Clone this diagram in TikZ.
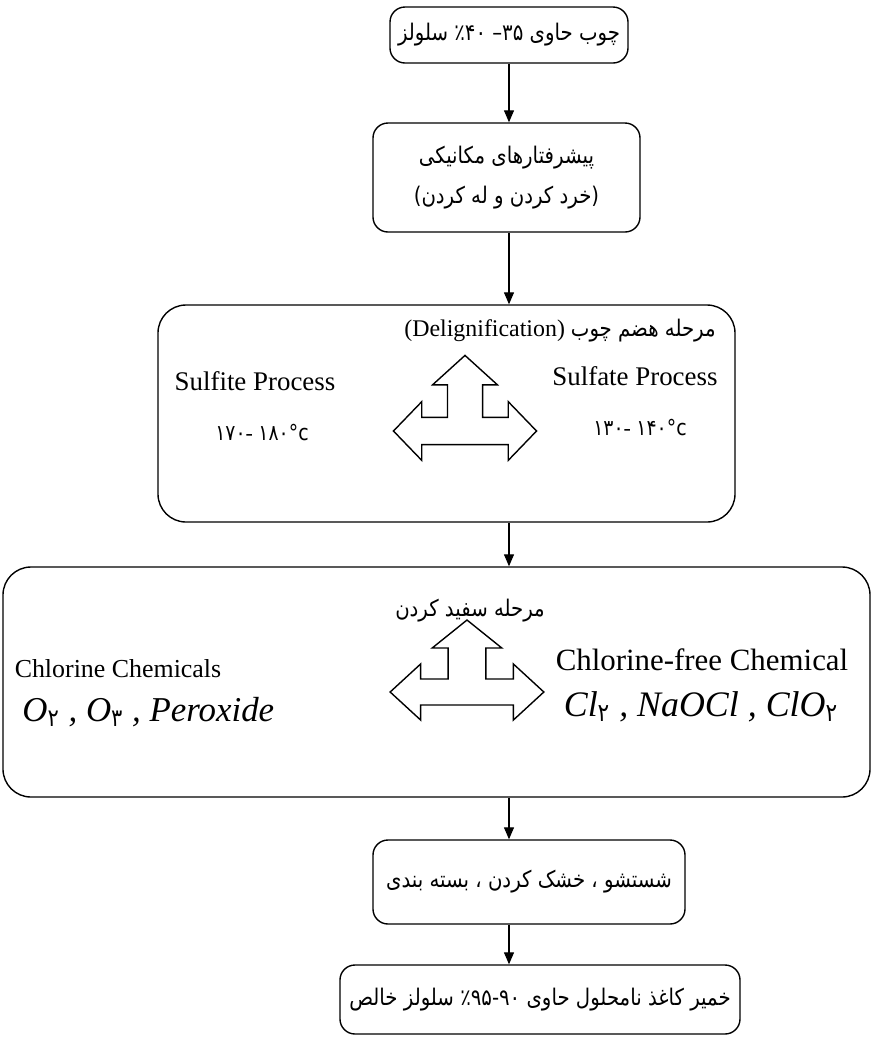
\documentclass[tikz,border=0pt]{standalone}
\usepackage{fontspec}
\setmainfont{Liberation Serif}
\newfontfamily\fa[Script=Arabic, FakeStretch=0.86]{DejaVu Sans}
\TeXXeTstate=1
\usetikzlibrary{arrows.meta}

\newcommand\fatext[1]{{\fontsize{11.5}{16}\selectfont\fa\beginR #1\endR}}
\newcommand\temps[2]{{\fontsize{11}{14}\selectfont\beginR\hbox{\fa #2°c}\ \hbox{-}\hbox{\fa #1}\endR}}

\tikzset{
  stage/.style={draw, line width=0.7pt, rounded corners=7.5bp, inner sep=0pt, align=center},
  bigstage/.style={stage, rounded corners=14bp},
  flow/.style={line width=0.6pt, -{Triangle[length=6bp,width=5bp]}},
  lbl/.style={inner sep=0pt, font=\fontsize{13.5}{16}\selectfont},
  formula/.style={inner sep=0pt, font=\fontsize{17.5}{20}\selectfont\itshape},
  pics/triarrow/.style={code={
    \draw[line width=0.7pt, line join=miter] (-53,0) -- (-32,-28) -- (-32,-13) -- (-13,-13) -- (-13,-44)
      -- (-24,-44) -- (0,-72) -- (24,-44) -- (13,-44) -- (13,-13) -- (32,-13) -- (32,-28)
      -- (53,0) -- (32,28) -- (32,13) -- (-32,13) -- (-32,28) -- cycle;
  }}
}

\begin{document}
\begin{tikzpicture}[x=0.5bp,y=-0.5bp]
\useasboundingbox (0,0) rectangle (873,1040);
\coordinate (col) at (509,0);

\node[stage, minimum width=119bp, minimum height=28bp] (wood) at (509,35) {\fatext{چوب حاوی ۳۵– ٪۴۰ سلولز}};
\node[stage, minimum width=133.5bp, minimum height=54.5bp] (mech) at (506.5,177.5) {\fatext{پیشرفتارهای مکانیکی}\\[8bp]\fatext{(خرد کردن و له کردن)}};

\node[bigstage, minimum width=288.5bp, minimum height=108.5bp] (digest) at (446.5,413.5) {};
\node[lbl, font=\fontsize{12}{16}\selectfont] (digestTitle) at (560,331) {(Delignification) \fatext{مرحله هضم چوب}};
\node[lbl] (sulfite) at (255,381) {Sulfite Process};
\node[lbl] (sulfiteT) at (262,433) {\temps{۱۷۰}{۱۸۰}};
\node[lbl] (sulfate) at (635,376) {Sulfate Process};
\node[lbl] (sulfateT) at (640,428) {\temps{۱۳۰}{۱۴۰}};
\pic[xscale=1.35, yscale=1.05] at (465,431) {triarrow};

\node[bigstage, minimum width=433.5bp, minimum height=115bp] (bleach) at (436.5,682) {};
\node[lbl] (bleachTitle) at (470,611) {\fatext{مرحله سفید کردن}};
\node[lbl, font=\fontsize{13}{16}\selectfont] (chlor) at (118,669) {Chlorine Chemicals};
\node[formula, anchor=west] (chlorF) at (22,712) {O\textsubscript{\upshape\fa ۲}\ ,\ O\textsubscript{\upshape\fa ۳}\ ,\ Peroxide};
\node[lbl, font=\fontsize{15.5}{18}\selectfont] (chlorfree) at (702,660) {Chlorine-free Chemical};
\node[formula, font=\fontsize{18}{20}\selectfont\itshape] (chlorfreeF) at (701,707) {Cl\textsubscript{\upshape\fa ۲}\ ,\ NaOCl\ ,\ ClO\textsubscript{\upshape\fa ۲}};
\pic[xscale=1.45, yscale=1.0] at (467,692) {triarrow};

\node[stage, minimum width=156bp, minimum height=42bp] (wash) at (529,882) {\fatext{شستشو ، خشک کردن ، بسته بندی}};
\node[stage, minimum width=200bp, minimum height=34.5bp] (pulp) at (540,999.5) {\fatext{خمیر کاغذ نامحلول حاوی \hbox{۹۰}\hbox{-}\hbox{٪۹۵} سلولز خالص}};

\draw[flow] (col |- wood.south) -- (col |- mech.north);
\draw[flow] (col |- mech.south) -- (col |- digest.north);
\draw[flow] (col |- digest.south) -- (col |- bleach.north);
\draw[flow] (col |- bleach.south) -- (col |- wash.north);
\draw[flow] (col |- wash.south) -- (col |- pulp.north);

\end{tikzpicture}
\end{document}
